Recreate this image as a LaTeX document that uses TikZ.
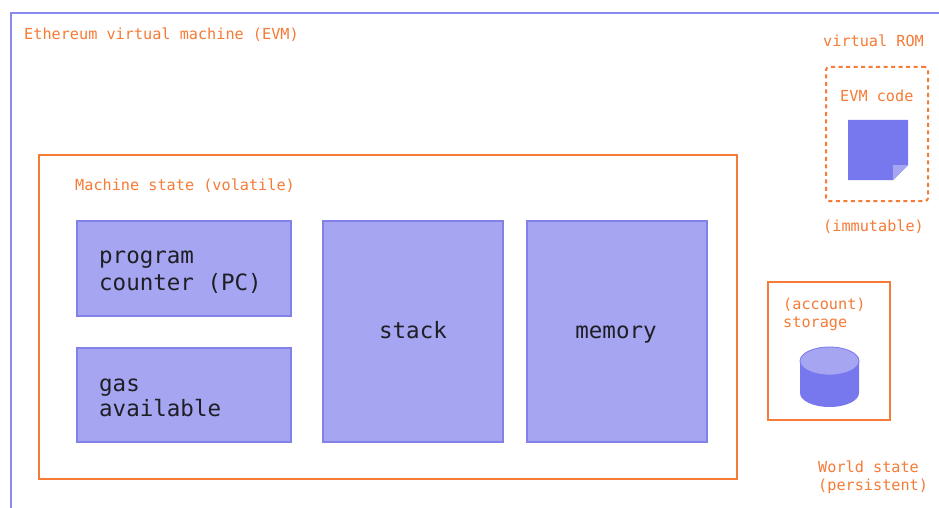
\documentclass[tikz,border=0pt]{standalone}
\usepackage{fontspec}
\setmonofont{DejaVu Sans Mono}
\definecolor{evmorange}{HTML}{F57B37}
\definecolor{evmblue}{HTML}{8A8AEE}
\definecolor{boxfill}{HTML}{A5A5F1}
\definecolor{boxline}{HTML}{8181E8}
\definecolor{icondark}{HTML}{7878EE}
\definecolor{textdark}{HTML}{1E1E24}
\begin{document}
\begin{tikzpicture}[x=1pt,y=-1pt,
  obox/.style={draw=evmorange, line width=2pt, inner sep=0pt},
  pbox/.style={draw=boxline, fill=boxfill, line width=1.3pt, inner sep=0pt},
  olabel/.style={text=evmorange, font=\ttfamily\fontsize{15.2}{18}\selectfont, inner sep=0pt, anchor=base west},
  blabel/.style={text=textdark, font=\ttfamily\fontsize{22.5}{26}\selectfont, inner sep=0pt, anchor=base west}]
\useasboundingbox (0,0) rectangle (939,508);
\fill[white] (0,0) rectangle (939,508);
\begin{scope}
\clip (0,0) rectangle (939,508);
\node[draw=evmblue, line width=1.7pt, anchor=north west, minimum width=960pt, minimum height=530pt, inner sep=0pt] (evm) at (10,12) {};
\end{scope}
\node[olabel] (evmtitle) at (24,40) {Ethereum virtual machine (EVM)};

% machine state
\node[obox, minimum width=698pt, minimum height=324pt] (ms) at (388,317) {};
\node[olabel] (mstitle) at (75,190) {Machine state (volatile)};

\node[pbox, minimum width=214pt, minimum height=95pt] (pc) at (184,268.5) {};
\node[blabel] (pcA) at (99,263) {program};
\node[blabel] (pcB) at (99,290) {counter (PC)};

\node[pbox, minimum width=214pt, minimum height=94pt] (gas) at (184,395) {};
\node[blabel] (gasA) at (99,391) {gas};
\node[blabel] (gasB) at (99,416) {available};

\node[pbox, minimum width=180pt, minimum height=221pt] (stack) at (413,331.5) {};
\node[blabel, anchor=base] (stacklbl) at (413,338) {stack};

\node[pbox, minimum width=180pt, minimum height=221pt] (memory) at (617,331.5) {};
\node[blabel, anchor=base] (memorylbl) at (616,338) {memory};

% virtual ROM
\node[olabel] (romtitle) at (823,47) {virtual ROM};
\node[draw=evmorange, line width=2pt, dash pattern=on 4pt off 3.5pt, rounded corners=3pt, minimum width=102pt, minimum height=134pt, inner sep=0pt] (rom) at (877,134) {};
\node[olabel] (codelbl) at (840,102) {EVM code};
\fill[icondark] (848,120) -- (908,120) -- (908,165) -- (893,180) -- (848,180) -- cycle;
\fill[boxfill] (908,165) -- (893,165) -- (893,180) -- cycle;
\node[olabel] (immut) at (823,231) {(immutable)};

% storage
\node[obox, minimum width=122pt, minimum height=138pt] (storage) at (829,351) {};
\node[olabel] (stA) at (783,309) {(account)};
\node[olabel] (stB) at (783,327) {storage};
\fill[icondark] (800,361) -- (800,393) arc[start angle=180, end angle=360, x radius=29.5pt, y radius=14pt] -- (859,361) -- cycle;
\filldraw[fill=boxfill, draw=icondark, line width=0.8pt] (829.5,361) ellipse[x radius=29.5pt, y radius=14pt];

\node[olabel] (wsA) at (818,472) {World state};
\node[olabel] (wsB) at (818,490) {(persistent)};
\end{tikzpicture}
\end{document}
